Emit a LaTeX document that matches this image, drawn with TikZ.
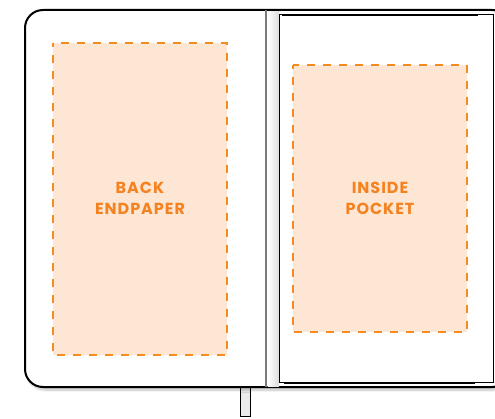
\documentclass[tikz,border=0pt]{standalone}
\usepackage{fontspec}
\setmainfont{Poppins}[LetterSpace=6]
\usetikzlibrary{shadows.blur}
\definecolor{dashorange}{HTML}{F68B1F}
\definecolor{fillpeach}{HTML}{FDE6D4}
\definecolor{txtorange}{HTML}{F58220}
\definecolor{spinegray}{HTML}{7A7A7A}
\tikzset{
  zone/.style={draw=dashorange, fill=fillpeach, line width=2.3pt, dash pattern=on 8pt off 8pt, dash phase=4pt},
  label/.style={text=txtorange, font=\fontsize{16}{21}\selectfont\bfseries, align=center},
  cover/.style={draw=black, fill=white, line width=2pt, rounded corners=18pt},
}
\begin{document}
\begin{tikzpicture}[x=1pt,y=-1pt]
\useasboundingbox (0,0) rectangle (495,419);
\clip (0,0) rectangle (495,419);
% bookmark ribbon
\draw[fill=black!8, line width=0.9pt] (240,386) rectangle (250,416);
% cover
\path[cover, blur shadow={shadow xshift=2pt, shadow yshift=-3pt, shadow blur steps=8, shadow opacity=25}] (25,10) rectangle (510,387);
% spine
\draw[spinegray, line width=1.4pt] (266,10) -- (266,387);
% inner page with shadow
\shade[left color=white, right color=black!14] (267.5,12) rectangle (279,386);
\draw[black, line width=1.6pt] (284,383) -- (475,383);
\draw[fill=white, line width=1pt] (279,15) rectangle (493,382);
\draw[line width=1.8pt] (282,15.5) -- (478,15.5);
% zones
\path[zone] (53,43) rectangle (227,355);
\path[zone] (293,65) rectangle (467,332);
\node[label] (back) at (140,198) {BACK\\ENDPAPER};
\node[label] (pocket) at (380,198) {INSIDE\\POCKET};
\end{tikzpicture}
\end{document}
